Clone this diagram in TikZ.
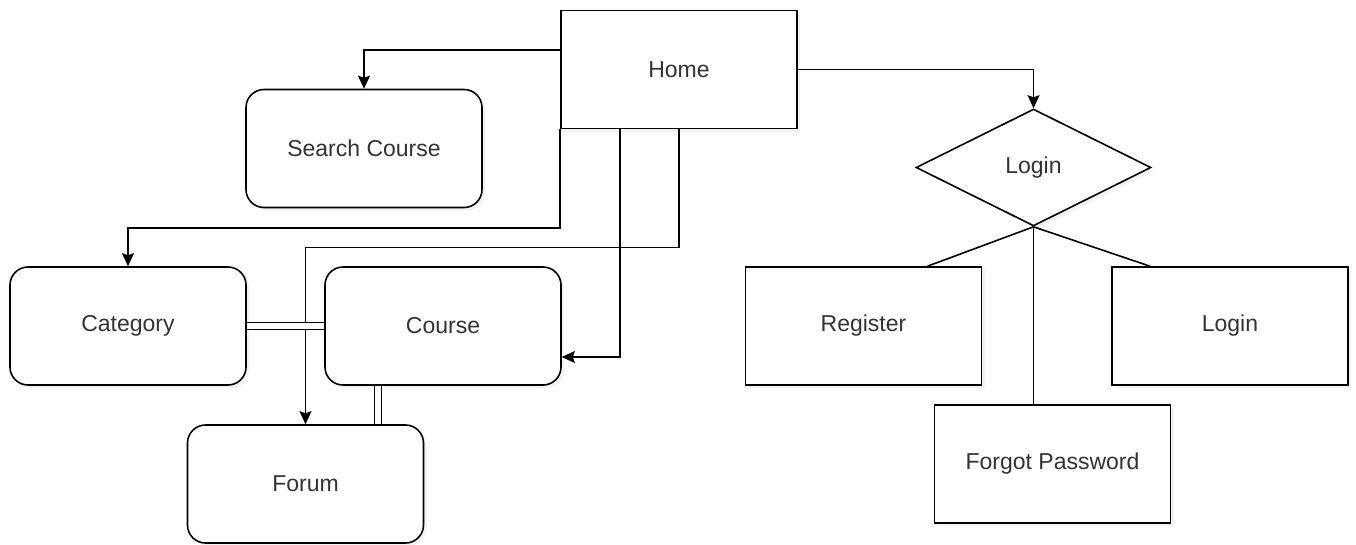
\documentclass[tikz,border=0pt]{standalone}
\usepackage{fontspec}
\setmainfont{Liberation Sans}
\usetikzlibrary{shapes.geometric, arrows.meta, shadows}

\begin{document}
\begin{tikzpicture}[x=1pt, y=-1pt,
  every node/.style={font=\fontsize{23}{27}\selectfont, text=black!80},
  page/.style={rectangle, draw, line width=1.6pt, fill=white, inner sep=0pt,
    minimum width=236pt, minimum height=118pt,
    drop shadow={fill=black!10, shadow xshift=3pt, shadow yshift=-3pt}},
  roundpage/.style={page, rounded corners=18pt},
  choice/.style={diamond, draw, line width=1.6pt, fill=white, inner sep=0pt, aspect=2,
    minimum width=235pt, minimum height=117pt,
    drop shadow={fill=black!10, shadow xshift=3pt, shadow yshift=-3pt}},
  link/.style={line width=1.6pt, -{Stealth[length=13pt, width=12pt, inset=2pt]}},
  plain/.style={line width=1.6pt},
  pair/.style={line width=1.4pt, double, double distance=6pt}]

\useasboundingbox (0,0) rectangle (1356,544);

% Define nodes
\node[page] (home) at (679, 69.5) {Home};
\node[roundpage] (search) at (364, 148.5) {Search Course};
\node[roundpage] (category) at (128, 326) {Category};
\node[roundpage] (course) at (443, 326) {Course};
\node[roundpage] (forum) at (305.5, 484) {Forum};
\node[choice] (logind) at (1033.5, 167.5) {Login};
\node[page] (register) at (863.5, 326) {Register};
\node[page] (loginr) at (1230, 326) {Login};
\node[page] (fpw) at (1052.5, 464) {Forgot Password};

% Draw edges
\draw[link] ([yshift=-40pt]home.north west) -| (search.north);
\draw[link] (home.south west) -- ++(0,98.5) -| (category.north);
\draw[link] ([xshift=-59pt]home.south) |- ([yshift=-31pt]course.east);
\draw[link] (home.south) -- ++(0,118) -| (forum.north);
\draw[link] (home.east) -| (logind.north);
\draw[pair] (category.east) -- (course.west);
\draw[pair] ([xshift=-65pt]course.south) -- ([xshift=-65pt]course.south |- forum.north);
\draw[plain] (logind.south) -- ([xshift=64pt]register.north);
\draw[plain] (logind.south) -- ([xshift=-80pt]loginr.north);
\draw[plain] (logind.south) -- (logind.south |- fpw.north);
\end{tikzpicture}
\end{document}
